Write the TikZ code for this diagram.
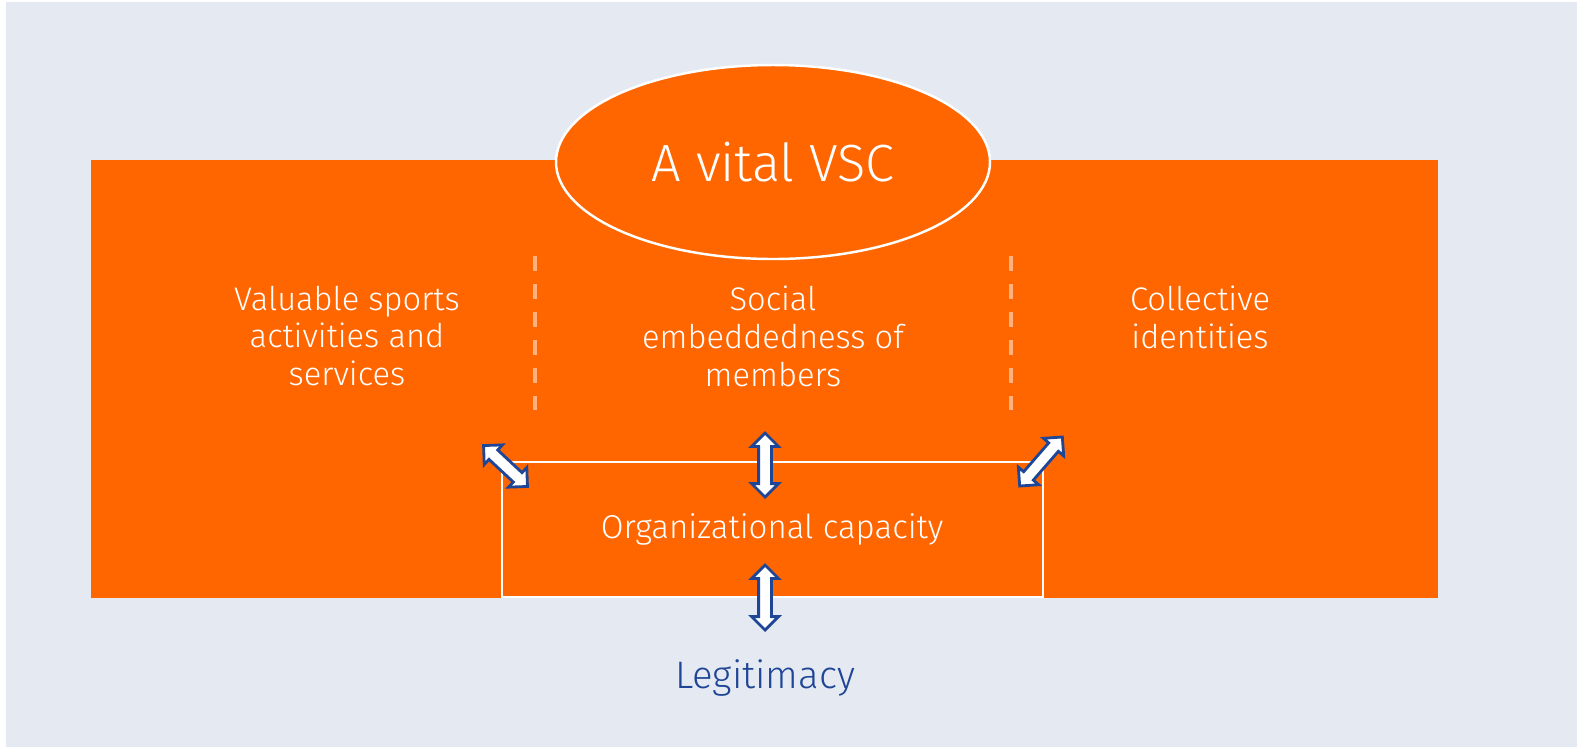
\documentclass[tikz,border=0pt]{standalone}
\usepackage{fontspec}
\setmainfont{Fira Sans}[UprightFont={* Light}]
\usetikzlibrary{shapes.geometric,shapes.arrows}
\definecolor{vscorange}{HTML}{FF6600}
\definecolor{vscbg}{HTML}{E4E9F2}
\definecolor{vscblue}{HTML}{1F4696}
\begin{document}
\begin{tikzpicture}[
    coltext/.style={text=white,align=center,anchor=north,inner sep=0pt,font=\fontsize{9.3pt}{10.8pt}\selectfont},
    dblarrow/.style={double arrow,draw=vscblue,fill=white,line width=0.8pt,inner xsep=0pt,inner ysep=0.05cm,
      double arrow head extend=0.07cm,double arrow head indent=0pt,minimum height=#1},
    dblarrow/.default=0.64cm
  ]
    \useasboundingbox (0,0) rectangle (15.77,7.49);
    \fill[vscbg] (0.06,0.02) rectangle (15.77,7.47);
    \fill[vscorange] (0.91,1.51) rectangle (14.38,5.89);
    \draw[white,line width=0.6pt] (5.02,1.51)--(5.02,2.87)--(10.43,2.87)--(10.43,1.52)--(5.02,1.52);
    \node[ellipse,draw=white,fill=vscorange,line width=0.7pt,minimum width=4.34cm,minimum height=1.94cm,
      text=white,font=\fontsize{14.9pt}{16pt}\selectfont] (vsc) at (7.73,5.87) {A vital VSC};
    \draw[white,opacity=0.5,line width=1.1pt,dash pattern=on 0.15cm off 0.13cm] (5.35,4.93)--(5.35,3.39);
    \draw[white,opacity=0.5,line width=1.1pt,dash pattern=on 0.15cm off 0.13cm] (10.11,4.93)--(10.11,3.39);
    \node[coltext] (sports) at (3.47,4.64) {Valuable sports\\activities and\\services};
    \node[coltext] (social) at (7.73,4.64) {Social\\embeddedness of\\members};
    \node[coltext] (ident) at (12.00,4.64) {Collective\\identities};
    \node[text=white,font=\fontsize{9.4pt}{11pt}\selectfont] (capacity) at (7.72,2.20) {Organizational capacity};
    \node[text=vscblue,font=\fontsize{10.9pt}{12pt}\selectfont] (legit) at (7.65,0.71) {Legitimacy};
    % arrows round the capacity box
    \node[dblarrow,rotate=90] (upper) at (7.65,2.84) {};
    \node[dblarrow=0.65cm,rotate=90] (lower) at (7.65,1.515) {};
    \node[dblarrow=0.6cm,rotate=-43] (left) at (5.055,2.83) {};
    \node[dblarrow=0.65cm,rotate=49] (right) at (10.41,2.875) {};
\end{tikzpicture}
\end{document}
